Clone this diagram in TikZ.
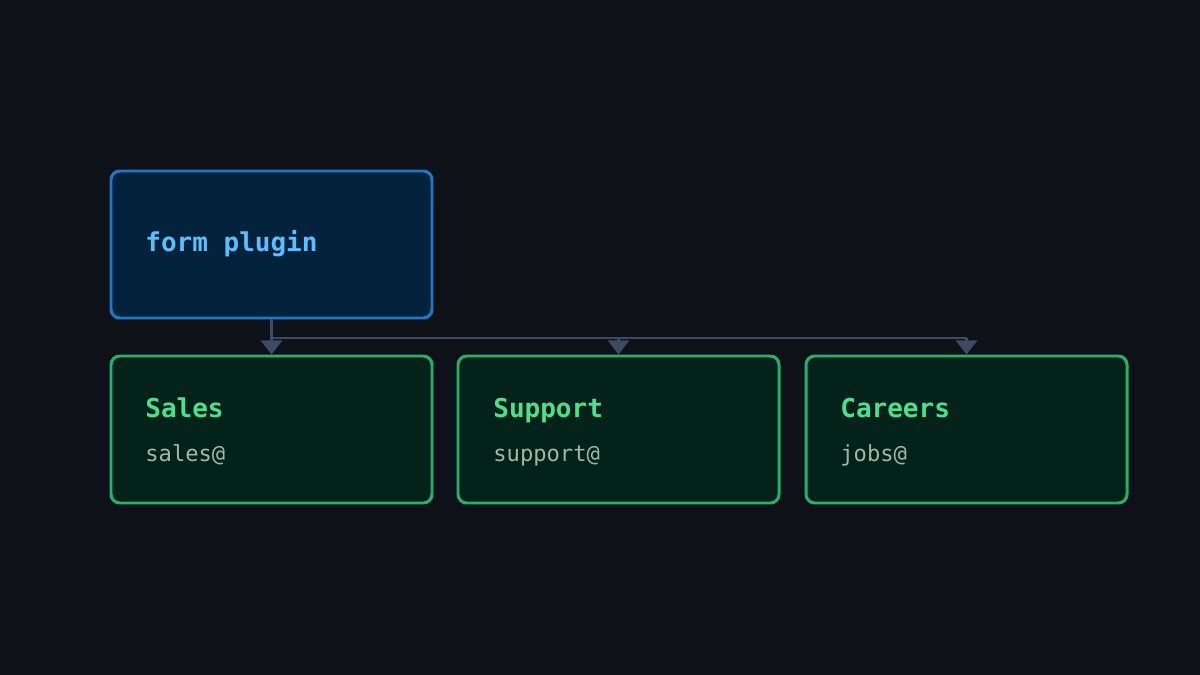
\documentclass[tikz,border=0pt]{standalone}
\usepackage{fontspec}
\setmonofont{DejaVu Sans Mono}
\usetikzlibrary{arrows.meta,positioning}
\definecolor{bgc}{HTML}{0E1117}
\definecolor{srcfill}{HTML}{03233D}
\definecolor{srcline}{HTML}{1F78C1}
\definecolor{srctext}{HTML}{5CBDFF}
\definecolor{dstfill}{HTML}{03221A}
\definecolor{dstline}{HTML}{22B36A}
\definecolor{dsttext}{HTML}{4BE08E}
\definecolor{subtext}{HTML}{9DB9A8}
\definecolor{wire}{HTML}{3E4A63}
\tikzset{
  box/.style={draw, line width=1.7pt, rounded corners=5pt, minimum width=321*0.02cm, inner sep=0pt},
  src/.style={box, fill=srcfill, draw=srcline, minimum height=147*0.02cm},
  dst/.style={box, fill=dstfill, draw=dstline, minimum height=147*0.02cm},
  lbl/.style={anchor=base west, inner sep=0pt, font=\ttfamily\bfseries\fontsize{14.8}{16}\selectfont},
  sub/.style={anchor=base west, inner sep=0pt, text=subtext, font=\ttfamily\fontsize{12.6}{14}\selectfont},
  link/.style={wire, line width=1.5pt, -{Triangle[length=8pt,width=12pt]}}
}
\begin{document}
\begin{tikzpicture}[x=0.02cm,y=-0.02cm]
\fill[bgc] (0,0) rectangle (1200,675);
\useasboundingbox (0,0) rectangle (1200,675);
% boxes
\node[src] (plugin) at (271.5,244.5) {};
\node[dst] (sales) at (271.5,429.5) {};
\node[dst] (support) at (618.5,429.5) {};
\node[dst] (careers) at (966.5,429.5) {};
% labels
\node[lbl, text=srctext] (pluginlbl) at (145,252) {form plugin};
\node[lbl, text=dsttext] (saleslbl) at (145,418) {Sales};
\node[sub] (salessub) at (145,461) {sales@};
\node[lbl, text=dsttext] (supportlbl) at (493,418) {Support};
\node[sub] (supportsub) at (493,461) {support@};
\node[lbl, text=dsttext] (careerslbl) at (840,418) {Careers};
\node[sub] (careerssub) at (840,461) {jobs@};
% wires
\coordinate (bus) at (271.5,338);
\draw[wire, line width=1.5pt] (plugin.south) -- (bus) -- (bus -| careers.north);
\draw[link] (bus) -- (sales.north);
\draw[link] (bus -| support.north) -- (support.north);
\draw[link] (bus -| careers.north) -- (careers.north);
\end{tikzpicture}
\end{document}
